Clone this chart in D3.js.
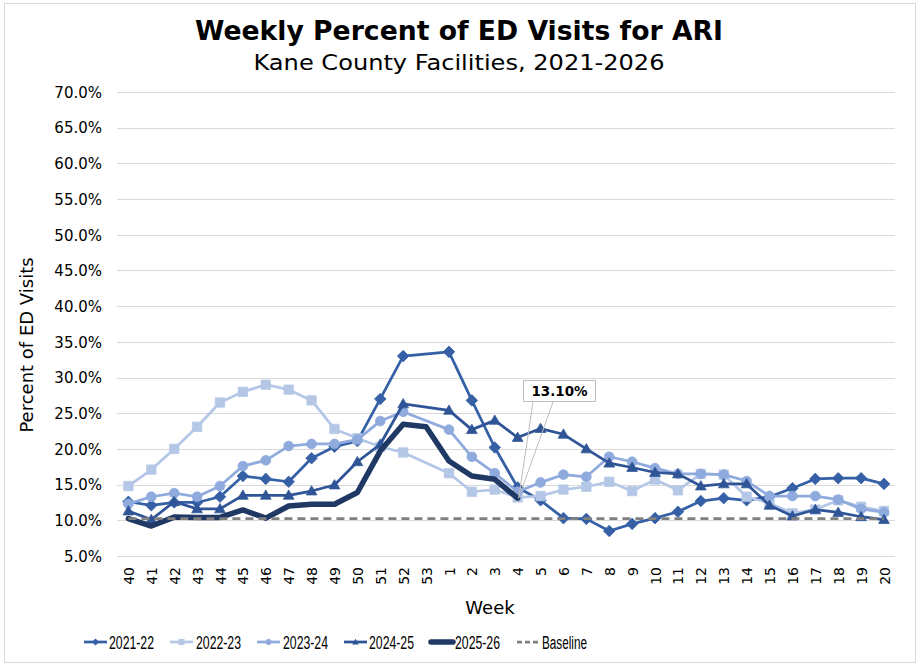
<!DOCTYPE html>
<html><head><meta charset="utf-8">
<script src="https://cdn.jsdelivr.net/npm/d3@7"></script>
<style>
html,body{margin:0;padding:0;background:#fff;}
svg{display:block;font-family:"DejaVu Sans",Verdana,sans-serif;}
</style></head>
<body>
<svg id="c" width="920" height="667"></svg>
<script>
const weeks = ["40","41","42","43","44","45","46","47","48","49","50","51","52","53",
  "1","2","3","4","5","6","7","8","9","10","11","12","13","14","15","16","17","18","19","20"];
const yTicks = [5,10,15,20,25,30,35,40,45,50,55,60,65,70];
const s2122 = [12.6,12.1,12.5,12.5,13.3,16.2,15.8,15.4,18.7,20.3,21.1,27.0,33.0,null,
  33.6,26.8,20.2,14.6,12.8,10.3,10.2,8.5,9.5,10.3,11.2,12.7,13.1,12.8,13.3,14.5,15.8,15.9,15.9,15.1];
const s2223 = [14.8,17.1,20.0,23.1,26.5,28.0,29.0,28.3,26.8,22.8,21.5,20.3,19.5,null,
  16.6,14.0,14.3,13.2,13.4,14.3,14.7,15.4,14.1,15.7,14.2,16.5,16.4,13.3,12.4,11.0,11.5,12.8,11.9,11.3];
const s2324 = [12.3,13.3,13.8,13.3,14.8,17.6,18.4,20.4,20.7,20.7,21.3,23.9,25.2,null,
  22.7,18.9,16.6,14.0,15.3,16.4,16.1,18.9,18.2,17.3,16.5,16.5,16.4,15.5,13.4,13.4,13.4,12.9,11.6,11.1];
const s2425 = [11.3,10.1,12.6,11.6,11.6,13.5,13.5,13.5,14.1,14.95,18.2,20.65,26.3,null,
  25.4,22.7,24.0,21.6,22.85,22.05,20.0,18.0,17.4,16.7,16.5,14.8,15.1,15.1,12.1,10.6,11.5,11.1,10.5,10.1];
const s2526 = [10.25,9.2,10.45,10.4,10.4,11.45,10.3,12.0,12.25,12.25,13.9,19.7,23.45,23.1,
  18.3,16.2,15.75,13.1,null,null,null,null,null,null,null,null,null,null,null,null,null,null,null,null];
const baseline = 10.25;
const seriesNames = ["2021-22","2022-23","2023-24","2024-25","2025-26"];
const labelWeek = "4";
const labelText = "13.10%";

const series = [
  {name:seriesNames[0], data:s2122, color:"#3560A6", width:2.75, marker:"diamond"},
  {name:seriesNames[1], data:s2223, color:"#B4C7E7", width:2.75, marker:"square"},
  {name:seriesNames[2], data:s2324, color:"#8FAADC", width:2.75, marker:"circle"},
  {name:seriesNames[3], data:s2425, color:"#2F5597", width:2.75, marker:"triangle"},
  {name:seriesNames[4], data:s2526, color:"#1F3864", width:5.5, marker:"none"}
];

const svg = d3.select("#c");
svg.append("rect").attr("x",4.5).attr("y",3.5).attr("width",911).attr("height",659)
  .attr("fill","#fff").attr("stroke","#D9D9D9").attr("stroke-width",1);

const x = d3.scalePoint().domain(weeks).range([128.4,884]);
const y = d3.scaleLinear().domain([5,70]).range([556,92]);
const plotL = 117, plotR = 895;

// gridlines
svg.append("g").selectAll("line").data(yTicks).join("line")
  .attr("x1",plotL).attr("x2",plotR)
  .attr("y1",d=>Math.round(y(d))+0.5).attr("y2",d=>Math.round(y(d))+0.5)
  .attr("stroke","#D9D9D9").attr("stroke-width",1);

// y axis
const yAxis = d3.axisLeft(y).tickValues(yTicks).tickFormat(d=>d.toFixed(1)+"%").tickSize(0).tickPadding(0);
const gy = svg.append("g").attr("transform","translate(102,0)").call(yAxis);
gy.select(".domain").remove();
gy.attr("font-family",null).attr("font-size",null);
gy.selectAll("text").style("font-size","15px").style("font-family","'DejaVu Sans'").attr("fill","#000").attr("dy","0.35em");

// x axis
const xAxis = d3.axisBottom(x).tickSize(0).tickPadding(0);
const gx = svg.append("g").attr("transform","translate(0,567)").call(xAxis);
gx.select(".domain").remove();
gx.attr("font-family",null).attr("font-size",null);
gx.selectAll("text").style("font-size","14px").style("font-family","'DejaVu Sans'").attr("fill","#000")
  .attr("text-anchor","end").attr("transform","rotate(-90)").attr("x",0).attr("y",0).attr("dy","0.36em");

// titles
svg.append("text").attr("x",459).attr("y",39.5).attr("text-anchor","middle")
  .style("font-size","26px").style("font-weight","bold").attr("textLength",528).attr("lengthAdjust","spacingAndGlyphs")
  .text("Weekly Percent of ED Visits for ARI");
svg.append("text").attr("x",459).attr("y",69.5).attr("text-anchor","middle")
  .style("font-size","22px").attr("textLength",411).attr("lengthAdjust","spacingAndGlyphs")
  .text("Kane County Facilities, 2021-2026");
svg.append("text").attr("transform","translate(33,345) rotate(-90)").attr("text-anchor","middle")
  .style("font-size","18px").text("Percent of ED Visits");
svg.append("text").attr("x",490).attr("y",614).attr("text-anchor","middle")
  .style("font-size","18px").text("Week");

// markers
function markerPath(type, s){
  if(type==="diamond") return `M0,${-s}L${s},0L0,${s}L${-s},0Z`;
  if(type==="square") return `M${-s},${-s}H${s}V${s}H${-s}Z`;
  if(type==="triangle") return `M0,${-s*1.1}L${s*1.1},${s*0.8}L${-s*1.1},${s*0.8}Z`;
  if(type==="circle") return d3.symbol(d3.symbolCircle, Math.PI*s*s)();
  return "";
}
const msize = {diamond:5.8, square:4.7, circle:4.9, triangle:4.9};

const line = d3.line().x(d=>x(d.w)).y(d=>y(d.v));
const plot = svg.append("g");
series.forEach(s=>{
  const pts = weeks.map((w,i)=>({w, v:s.data[i]})).filter(d=>d.v!=null);
  const g = plot.append("g");
  g.append("path").attr("d",line(pts)).attr("fill","none").attr("stroke",s.color)
    .attr("stroke-width",s.width).attr("stroke-linejoin","round").attr("stroke-linecap","round");
  if(s.marker!=="none"){
    g.selectAll("path.m").data(pts).join("path").attr("class","m")
      .attr("transform",d=>`translate(${x(d.w)},${y(d.v)})`)
      .attr("d",markerPath(s.marker, msize[s.marker])).attr("fill",s.color).attr("stroke",s.color).attr("stroke-width",0.75);
  }
});
// baseline
plot.append("line").attr("x1",x(weeks[0])).attr("x2",x(weeks[weeks.length-1]))
  .attr("y1",y(baseline)).attr("y2",y(baseline))
  .attr("stroke","#808080").attr("stroke-width",2.75).attr("stroke-dasharray","8,5");

// data label callout
const px = x(labelWeek), py = y(s2526[weeks.indexOf(labelWeek)]);
const lab = svg.append("g");
lab.append("path").attr("d",`M533,402L${px+1},${py}L553,402`).attr("fill","none").attr("stroke","#BFBFBF").attr("stroke-width",1);
lab.append("rect").attr("x",523.5).attr("y",380.5).attr("width",72).attr("height",21)
  .attr("fill","#fff").attr("stroke","#BFBFBF").attr("stroke-width",1);
lab.append("text").attr("x",559.5).attr("y",396).attr("text-anchor","middle")
  .style("font-size","13.5px").style("font-weight","bold").text(labelText);

// legend
const legItems = [
  {name:seriesNames[0], color:series[0].color, w:2.75, marker:"diamond", x0:84, x1:107, tx:109},
  {name:seriesNames[1], color:series[1].color, w:2.75, marker:"square", x0:170, x1:193, tx:196},
  {name:seriesNames[2], color:series[2].color, w:2.75, marker:"circle", x0:257, x1:280, tx:283},
  {name:seriesNames[3], color:series[3].color, w:2.75, marker:"triangle", x0:344, x1:367, tx:369},
  {name:seriesNames[4], color:series[4].color, w:5.5, marker:"none", x0:431, x1:453, tx:455},
  {name:"Baseline", color:"#808080", w:2.75, marker:"dash", x0:517, x1:538, tx:542}
];
const ly = 642;
const leg = svg.append("g");
legItems.forEach(it=>{
  const l = leg.append("line").attr("x1",it.x0).attr("x2",it.x1).attr("y1",ly).attr("y2",ly)
    .attr("stroke",it.color).attr("stroke-width",it.w);
  if(it.marker==="dash") l.attr("stroke-dasharray","5,3");
  if(it.marker==="none") l.attr("stroke-linecap","round");
  if(it.marker!=="none" && it.marker!=="dash"){
    leg.append("path").attr("transform",`translate(${(it.x0+it.x1)/2},${ly})`)
      .attr("d",markerPath(it.marker, it.marker==="diamond"?3.6:3)).attr("fill",it.color);
  }
  leg.append("text").attr("x",it.tx).attr("y",ly+6.5)
    .style("font-size","18px")
    .style("font-family","'Liberation Sans Narrow','Liberation Sans',Arial,sans-serif")
    .attr("textLength",45).attr("lengthAdjust","spacingAndGlyphs")
    .text(it.name);
});
</script>
</body></html>
